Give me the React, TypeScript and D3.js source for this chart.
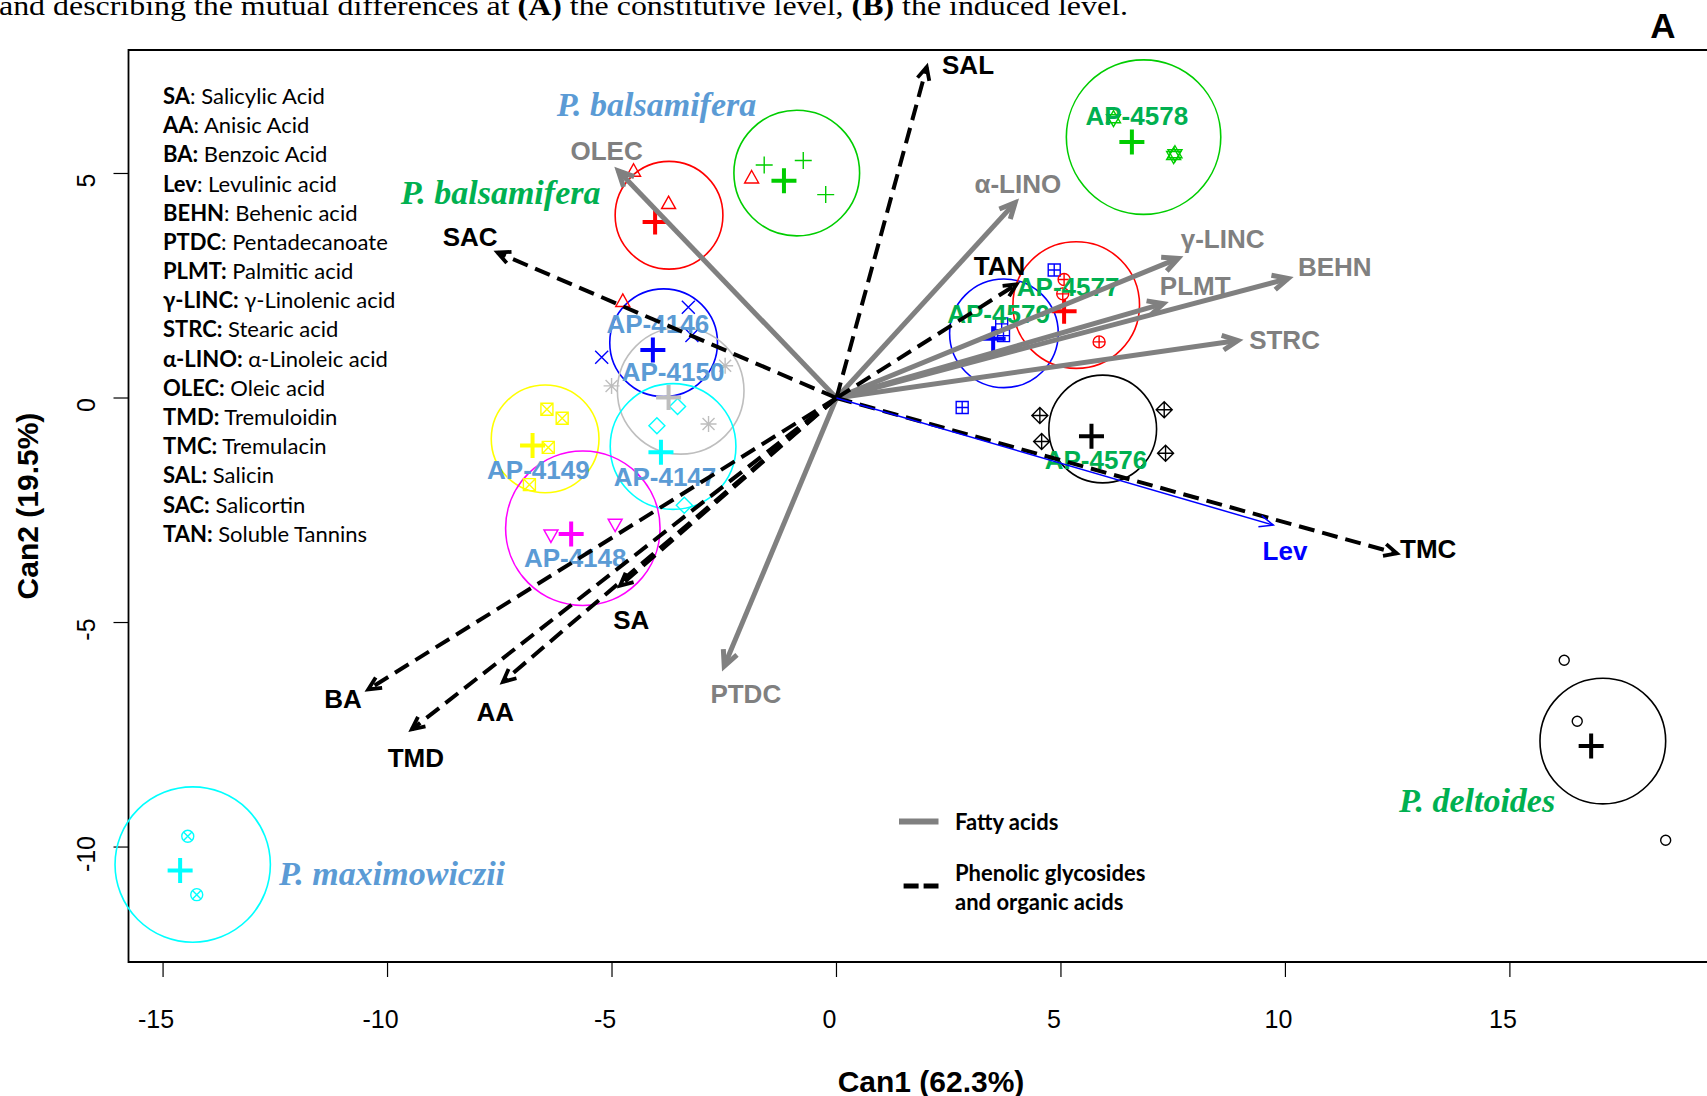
import React from "react";
import * as d3 from "d3";

const W = 1707;
const H = 1096;

// ---------- axes ----------
const xTickValues = [-15, -10, -5, 0, 5, 10, 15];
const yTickValues = [5, 0, -5, -10];
const xDomain = [-15.77, 19.68];
const yDomain = [-12.56, 7.75];

// ---------- biplot arrows: fatty acids (grey solid) ----------
const fattyNames = ["OLEC", "α-LINO", "γ-LINC", "BEHN", "PLMT", "STRC", "PTDC"];
const fattyX = [-4.86, 3.98, 7.61, 10.06, 7.28, 8.94, -2.5];
const fattyY = [5.06, 4.35, 3.11, 2.66, 2.1, 1.28, -5.97];
const fattyLabelX = [-5.12, 4.04, 8.6, 11.1, 7.99, 9.98, -2.02];
const fattyLabelY = [5.5, 4.77, 3.53, 2.92, 2.49, 1.3, -6.59];

// ---------- biplot arrows: phenolic glycosides & organic acids (black dashed) ----------
const phenolNames = ["SAL", "SAC", "TAN", "TMC", "SA", "AA", "TMD", "BA"];
const phenolX = [2.01, -7.55, 4.01, 12.48, -4.82, -7.43, -9.46, -10.43];
const phenolY = [7.37, 3.24, 2.53, -3.46, -4.18, -6.32, -7.38, -6.49];
const phenolLabelX = [2.93, -8.16, 3.63, 13.18, -4.57, -7.6, -9.37, -10.99];
const phenolLabelY = [7.42, 3.58, 2.95, -3.36, -4.94, -7.0, -8.02, -6.71];

// ---------- Levulinic acid (blue) ----------
const levName = "Lev";
const levTip = [9.73, -2.83];
const levLabel = [9.99, -3.41];

// ---------- genotype groups ----------
const groupLabels = ["", "", "AP-4146", "AP-4150", "AP-4149", "AP-4147", "AP-4148", "AP-4579", "AP-4577", "AP-4578", "AP-4576", "", ""];
const circleX = [-0.885, -3.73, -3.85, -3.47, -6.49, -3.64, -5.65, 3.73, 5.34, 6.84, 5.93, 17.07, -14.34];
const circleY = [5.01, 4.07, 1.23, 0.16, -0.91, -1.08, -2.9, 1.44, 2.07, 5.81, -0.69, -7.64, -10.39];
const circleR = [1.4, 1.2, 1.2, 1.41, 1.2, 1.4, 1.72, 1.21, 1.41, 1.72, 1.2, 1.4, 1.73];
const centroidX = [-1.17, -4.04, -4.09, -3.74, -6.77, -3.91, -5.91, 3.49, 5.07, 6.58, 5.68, 16.81, -14.62];
const centroidY = [4.84, 3.92, 1.07, 0.01, -1.06, -1.21, -3.03, 1.32, 1.93, 5.7, -0.85, -7.75, -10.52];
const obsX = [
  [-1.61, -0.74, -0.24],
  [-4.52, -3.74, -4.76, -1.89],
  [-3.3, -3.22, -5.23],
  [-5.01, -2.85, -2.48],
  [-6.45, -6.11, -6.42, -6.84],
  [-3.54, -4.0, -3.39],
  [-6.36, -4.93],
  [4.85, 3.68, 3.72, 2.8],
  [5.07, 5.04, 5.85],
  [6.17, 7.54, 7.51],
  [4.53, 4.57, 7.3, 7.33],
  [16.21, 16.5, 18.47],
  [-14.45, -14.25],
];
const obsY = [
  [5.19, 5.29, 4.53],
  [5.05, 4.33, 2.15, 4.9],
  [2.02, 1.39, 0.91],
  [0.27, -0.58, 0.72],
  [-0.25, -0.45, -1.1, -1.93],
  [-0.19, -0.62, -2.39],
  [-3.05, -2.81],
  [2.85, 1.65, 1.39, -0.21],
  [2.64, 2.32, 1.25],
  [6.22, 5.44, 5.4],
  [-0.39, -0.97, -0.26, -1.23],
  [-5.84, -7.2, -9.85],
  [-9.76, -11.06],
];
const groupLabelX = [0, 0, -3.98, -3.64, -6.64, -3.82, -5.82, 3.61, 5.16, 6.69, 5.78, 0, 0];
const groupLabelY = [0, 0, 1.64, 0.59, -1.6, -1.75, -3.57, 1.87, 2.47, 6.29, -1.38, 0, 0];

// ---------- species labels ----------
const speciesNames = ["P. balsamifera", "P. balsamifera", "P. maximowiczii", "P. deltoides"];
const speciesX = [-4.01, -7.48, -9.9, 14.27];
const speciesY = [6.54, 4.58, -10.59, -8.97];

// ---------- abbreviation legend ----------
const abbrevBold = ["SA", "AA", "BA:", "Lev", "BEHN", "PTDC", "PLMT:", "γ-LINC:", "STRC:", "α-LINO:", "OLEC:", "TMD:", "TMC:", "SAL:", "SAC:", "TAN:"];
const abbrevText = [": Salicylic Acid", ": Anisic Acid", " Benzoic Acid", ": Levulinic acid", ": Behenic acid", ": Pentadecanoate", " Palmitic acid", " γ-Linolenic acid", " Stearic acid", " α-Linoleic acid", " Oleic acid", " Tremuloidin", " Tremulacin", " Salicin", " Salicortin", " Soluble Tannins"];

// ---------- styles (kept separate from data) ----------
const groupColors = ["#00CD00", "#FF0000", "#0000FF", "#BEBEBE", "#FFFF00", "#00FFFF", "#FF00FF", "#0000FF", "#FF0000", "#00CD00", "#000000", "#000000", "#00FFFF"];
const groupPch = [3, 2, 4, 8, 7, 5, 6, 12, 10, 11, 9, 1, 13];
const groupLabelColors = ["", "", "#5B9BD5", "#5B9BD5", "#5B9BD5", "#5B9BD5", "#5B9BD5", "#00B050", "#00B050", "#00B050", "#00B050", "", ""];
const speciesColors = ["#5B9BD5", "#00B050", "#5B9BD5", "#00B050"];

const SANS = "'Liberation Sans', Arial, Helvetica, sans-serif";
const SERIF = "'Liberation Serif', 'Times New Roman', serif";
const CAL = "Lato, 'Open Sans', sans-serif";

function headPath(x0: number, y0: number, x1: number, y1: number, len: number, ang: number) {
  const a = Math.atan2(y1 - y0, x1 - x0);
  const p1x = x1 - len * Math.cos(a - ang);
  const p1y = y1 - len * Math.sin(a - ang);
  const p2x = x1 - len * Math.cos(a + ang);
  const p2y = y1 - len * Math.sin(a + ang);
  return `M${p1x},${p1y}L${x1},${y1}L${p2x},${p2y}`;
}

function Pch({ pch, cx, cy, color }: { pch: number; cx: number; cy: number; color: string }) {
  const c = { fill: "none", stroke: color, strokeWidth: 1.4 };
  const sq = (s: number) => `M${cx - s},${cy - s}H${cx + s}V${cy + s}H${cx - s}Z`;
  const plus = (s: number) => `M${cx - s},${cy}H${cx + s}M${cx},${cy - s}V${cy + s}`;
  const cross = (s: number) => `M${cx - s},${cy - s}L${cx + s},${cy + s}M${cx - s},${cy + s}L${cx + s},${cy - s}`;
  const dia = (s: number) => `M${cx},${cy - s}L${cx + s},${cy}L${cx},${cy + s}L${cx - s},${cy}Z`;
  const triUp = `M${cx},${cy - 7.5}L${cx + 7},${cy + 5}L${cx - 7},${cy + 5}Z`;
  const triDn = `M${cx},${cy + 7.5}L${cx + 7},${cy - 5}L${cx - 7},${cy - 5}Z`;
  switch (pch) {
    case 1:
      return <circle cx={cx} cy={cy} r={5} {...c} />;
    case 2:
      return <path d={triUp} {...c} />;
    case 3:
      return <path d={plus(8.5)} {...c} />;
    case 4:
      return <path d={cross(6.5)} {...c} />;
    case 5:
      return <path d={dia(8)} {...c} />;
    case 6:
      return <path d={triDn} {...c} />;
    case 7:
      return <path d={sq(6) + cross(6)} {...c} />;
    case 8:
      return <path d={plus(8) + cross(6)} {...c} />;
    case 9:
      return <path d={dia(8) + plus(8)} {...c} />;
    case 10:
      return (
        <g>
          <circle cx={cx} cy={cy} r={6} {...c} />
          <path d={plus(6)} {...c} />
        </g>
      );
    case 11:
      return (
        <path
          d={`M${cx},${cy - 8}L${cx + 7},${cy + 4}L${cx - 7},${cy + 4}ZM${cx},${cy + 8}L${cx + 7},${cy - 4}L${cx - 7},${cy - 4}Z`}
          {...c}
        />
      );
    case 12:
      return <path d={sq(6) + plus(6)} {...c} />;
    case 13:
      return (
        <g>
          <circle cx={cx} cy={cy} r={6} {...c} />
          <path d={cross(4.24)} {...c} />
        </g>
      );
    default:
      return null;
  }
}

export default function App() {
  const x = d3.scaleLinear().domain(xDomain).range([128.5, 1720]);
  const y = d3.scaleLinear().domain(yDomain).range([962, 50]);
  const ox = x(0);
  const oy = y(0);
  const left = x(xDomain[0]);
  const right = x(xDomain[1]);
  const top = y(yDomain[1]);
  const bottom = y(yDomain[0]);

  return (
    <svg
      width={W}
      height={H}
      viewBox={`0 0 ${W} ${H}`}
      style={{ position: "absolute", left: 0, top: 0, background: "#fff" }}
    >
      <rect x={0} y={0} width={W} height={H} fill="#fff" />

      {/* caption fragment */}
      <text x={-1} y={15} fontFamily={SERIF} fontSize={27} fill="#000" textLength={1129} lengthAdjust="spacingAndGlyphs">
        and describing the mutual differences at <tspan fontWeight="bold">(A)</tspan> the constitutive level,{" "}
        <tspan fontWeight="bold">(B)</tspan> the induced level.
      </text>
      <text x={1663} y={38} fontFamily={SANS} fontSize={35} fontWeight="bold" textAnchor="middle">
        A
      </text>

      {/* plot box */}
      <path d={`M${right},${top}H${left}V${bottom}H${right}`} fill="none" stroke="#000" strokeWidth={1.8} />

      {/* x axis */}
      {xTickValues.map((v) => (
        <g key={"xt" + v}>
          <line x1={x(v)} x2={x(v)} y1={bottom} y2={bottom + 15} stroke="#000" strokeWidth={1.2} />
          <text x={x(v) - 7} y={1028} fontFamily={SANS} fontSize={25} textAnchor="middle">
            {v}
          </text>
        </g>
      ))}
      {/* y axis */}
      {yTickValues.map((v) => (
        <g key={"yt" + v}>
          <line x1={left - 15} x2={left} y1={y(v)} y2={y(v)} stroke="#000" strokeWidth={1.2} />
          <text
            x={0}
            y={0}
            transform={`translate(95,${y(v) + 7}) rotate(-90)`}
            fontFamily={SANS}
            fontSize={25}
            textAnchor="middle"
          >
            {v}
          </text>
        </g>
      ))}
      <text x={931} y={1092} fontFamily={SANS} fontSize={30} fontWeight="bold" textAnchor="middle">
        Can1 (62.3%)
      </text>
      <text
        x={0}
        y={0}
        transform={`translate(38,506) rotate(-90)`}
        fontFamily={SANS}
        fontSize={30}
        fontWeight="bold"
        textAnchor="middle"
      >
        Can2 (19.5%)
      </text>

      {/* abbreviation legend */}
      {abbrevBold.map((b, i) => (
        <text key={"ab" + i} x={163} y={104 + i * 29.18} fontFamily={CAL} fontSize={22} fill="#000">
          <tspan fontWeight="bold">{b}</tspan>
          <tspan>{abbrevText[i]}</tspan>
        </text>
      ))}

      {/* group circles */}
      {circleX.map((cx, i) => (
        <circle
          key={"c" + i}
          cx={x(cx)}
          cy={y(circleY[i])}
          r={x(circleR[i]) - x(0)}
          fill="none"
          stroke={groupColors[i]}
          strokeWidth={1.6}
        />
      ))}
      {/* observations */}
      {obsX.map((arr, i) =>
        arr.map((vx, j) => (
          <Pch key={`o${i}-${j}`} pch={groupPch[i]} cx={x(vx)} cy={y(obsY[i][j])} color={groupColors[i]} />
        ))
      )}
      {/* centroids */}
      {centroidX.map((vx, i) => {
        const cx = x(vx);
        const cy = y(centroidY[i]);
        return (
          <path
            key={"ct" + i}
            d={`M${cx - 12.5},${cy}H${cx + 12.5}M${cx},${cy - 12.5}V${cy + 12.5}`}
            stroke={groupColors[i]}
            strokeWidth={4}
            fill="none"
          />
        );
      })}
      {/* group labels */}
      {groupLabels.map((lab, i) =>
        lab ? (
          <text
            key={"gl" + i}
            x={x(groupLabelX[i])}
            y={y(groupLabelY[i])}
            dominantBaseline="central"
            textAnchor="middle"
            fontFamily={SANS}
            fontWeight="bold"
            fontSize={26}
            fill={groupLabelColors[i]}
          >
            {lab}
          </text>
        ) : null
      )}

      {/* species labels */}
      {speciesNames.map((s, i) => (
        <text
          key={"sp" + i}
          x={x(speciesX[i])}
          y={y(speciesY[i])}
          dominantBaseline="central"
          textAnchor="middle"
          fontFamily={SERIF}
          fontStyle="italic"
          fontWeight="bold"
          fontSize={34}
          fill={speciesColors[i]}
        >
          {s}
        </text>
      ))}

      {/* fatty acid arrows */}
      {fattyNames.map((n, i) => {
        const tx = x(fattyX[i]);
        const ty = y(fattyY[i]);
        return (
          <g key={"fa" + i}>
            <line x1={ox} y1={oy} x2={tx} y2={ty} stroke="#808080" strokeWidth={5} />
            <path d={headPath(ox, oy, tx, ty, 17, 0.45)} fill="none" stroke="#808080" strokeWidth={5} strokeLinejoin="miter" />
          </g>
        );
      })}

      {/* phenolic arrows */}
      {phenolNames.map((n, i) => {
        const tx = x(phenolX[i]);
        const ty = y(phenolY[i]);
        return (
          <g key={"ph" + i}>
            <line x1={ox} y1={oy} x2={tx} y2={ty} stroke="#000" strokeWidth={4} strokeDasharray="16 8" />
            <path d={headPath(ox, oy, tx, ty, 14, 0.45)} fill="none" stroke="#000" strokeWidth={3.8} />
          </g>
        );
      })}

      {/* Lev arrow */}
      <line x1={ox} y1={oy} x2={x(levTip[0])} y2={y(levTip[1])} stroke="#0000FF" strokeWidth={1.5} />
      <path d={headPath(ox, oy, x(levTip[0]), y(levTip[1]), 15, 0.4)} fill="none" stroke="#0000FF" strokeWidth={1.5} />

      {/* arrow labels */}
      {fattyNames.map((n, i) => (
        <text
          key={"fl" + i}
          x={x(fattyLabelX[i])}
          y={y(fattyLabelY[i])}
          dominantBaseline="central"
          textAnchor="middle"
          fontFamily={SANS}
          fontWeight="bold"
          fontSize={26}
          fill="#808080"
        >
          {n}
        </text>
      ))}
      {phenolNames.map((n, i) => (
        <text
          key={"pl" + i}
          x={x(phenolLabelX[i])}
          y={y(phenolLabelY[i])}
          dominantBaseline="central"
          textAnchor="middle"
          fontFamily={SANS}
          fontWeight="bold"
          fontSize={26}
          fill="#000"
        >
          {n}
        </text>
      ))}
      <text
        x={x(levLabel[0])}
        y={y(levLabel[1])}
        dominantBaseline="central"
        textAnchor="middle"
        fontFamily={SANS}
        fontWeight="bold"
        fontSize={26}
        fill="#0000FF"
      >
        {levName}
      </text>

      {/* arrow type legend */}
      <line x1={899} x2={938.5} y1={821.5} y2={821.5} stroke="#808080" strokeWidth={6} />
      <text x={955} y={829.5} fontFamily={CAL} fontWeight="bold" fontSize={22}>
        Fatty acids
      </text>
      <line x1={903.6} x2={938.5} y1={886} y2={886} stroke="#000" strokeWidth={5} strokeDasharray="15 5" />
      <text x={955} y={881} fontFamily={CAL} fontWeight="bold" fontSize={22}>
        Phenolic glycosides
      </text>
      <text x={955} y={909.5} fontFamily={CAL} fontWeight="bold" fontSize={22}>
        and organic acids
      </text>
    </svg>
  );
}
